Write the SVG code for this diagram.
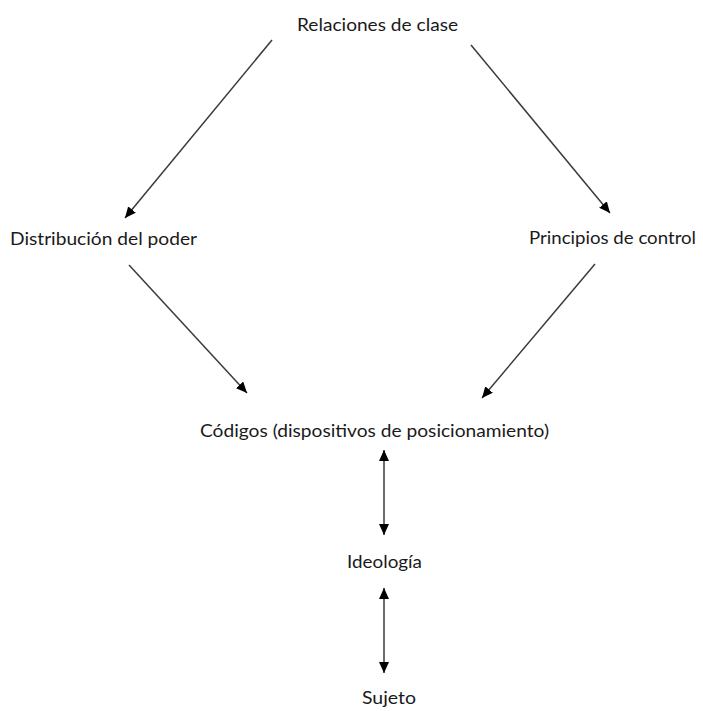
<svg xmlns="http://www.w3.org/2000/svg" width="703" height="711" viewBox="0 0 703 711">
<style>
.lbl{font-family:Lato,"Open Sans","Liberation Sans",sans-serif;font-size:18px;fill:#1a1a1a}
.edge{stroke:#3a3a3a;stroke-width:1.5;fill:none;marker-end:url(#ah)}
.both{marker-start:url(#ah)}
</style>
<defs>
<marker id="ah" markerUnits="userSpaceOnUse" markerWidth="11" markerHeight="10" refX="11" refY="5" orient="auto-start-reverse" viewBox="0 0 11 10">
<path d="M0,0 L11,5 L0,10 z" fill="#000"/>
</marker>
</defs>
<rect width="703" height="711" fill="#fff"/>
<g id="connectors">
<line class="edge" x1="272" y1="40" x2="125" y2="218"/>
<line class="edge" x1="471" y1="45" x2="610" y2="213"/>
<line class="edge" x1="129" y1="265" x2="247" y2="393"/>
<line class="edge" x1="595" y1="264" x2="482" y2="398"/>
<line class="edge both" x1="384" y1="450" x2="384" y2="535"/>
<line class="edge both" x1="384" y1="588" x2="384" y2="673"/>
</g>
<g id="relaciones"><text class="lbl" x="297" y="31" textLength="161" lengthAdjust="spacingAndGlyphs">Relaciones de clase</text></g>
<g id="distribucion"><text class="lbl" x="10" y="245" textLength="187" lengthAdjust="spacingAndGlyphs">Distribución del poder</text></g>
<g id="principios"><text class="lbl" x="529" y="244" textLength="167" lengthAdjust="spacingAndGlyphs">Principios de control</text></g>
<g id="codigos"><text class="lbl" x="200" y="437" textLength="349" lengthAdjust="spacingAndGlyphs">Códigos (dispositivos de posicionamiento)</text></g>
<g id="ideologia"><text class="lbl" x="347" y="568" textLength="75" lengthAdjust="spacingAndGlyphs">Ideología</text></g>
<g id="sujeto"><text class="lbl" x="362" y="704" textLength="54" lengthAdjust="spacingAndGlyphs">Sujeto</text></g>
</svg>
